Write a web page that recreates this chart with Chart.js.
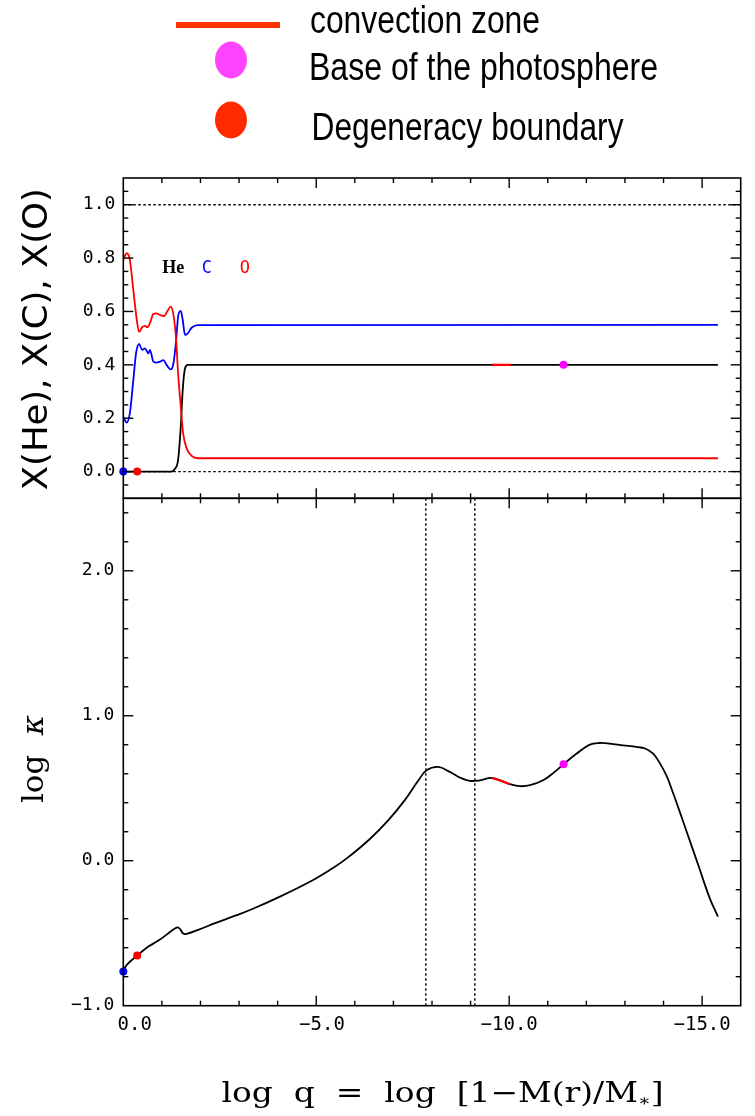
<!DOCTYPE html>
<html>
<head>
<meta charset="utf-8">
<script src="https://cdn.jsdelivr.net/npm/chart.js@4.4.1/dist/chart.umd.min.js"></script>
<style>
  html, body { margin: 0; padding: 0; background: #fff; }
  canvas { display: block; }
</style>
</head>
<body>
<canvas id="chart" width="755" height="1116"></canvas>
<script>
// --- abundances (top panel), x = log q
const qO = [0, -0.09, -0.17, -0.26, -0.35, -0.41, -0.49, -0.56, -0.62, -0.69, -0.78, -0.86, -0.95, -1.06, -1.15, -1.23, -1.30, -1.37, -1.42, -1.49, -1.55, -1.64, -1.77, -1.94, -15.41];
const xO = [0.793, 0.818, 0.793, 0.68, 0.568, 0.524, 0.541, 0.546, 0.541, 0.556, 0.591, 0.593, 0.587, 0.583, 0.603, 0.618, 0.587, 0.493, 0.368, 0.243, 0.144, 0.088, 0.059, 0.050, 0.050];

const qC = [0, -0.09, -0.17, -0.26, -0.33, -0.41, -0.49, -0.56, -0.65, -0.69, -0.78, -0.86, -0.95, -1.04, -1.12, -1.23, -1.30, -1.37, -1.42, -1.49, -1.54, -1.60, -1.67, -1.77, -1.94, -15.41];
const xC = [0.206, 0.184, 0.219, 0.343, 0.443, 0.478, 0.456, 0.462, 0.443, 0.456, 0.412, 0.408, 0.412, 0.418, 0.400, 0.383, 0.406, 0.493, 0.581, 0.602, 0.568, 0.512, 0.518, 0.539, 0.549, 0.550];

const qHe = [0, -1.24, -1.33, -1.42, -1.49, -1.54, -1.60, -1.67, -15.41];
const xHe = [0, 0, 0.009, 0.044, 0.169, 0.306, 0.387, 0.400, 0.400];

// --- opacity (bottom panel)
const qK = [0, -0.09, -0.36, -0.65, -0.91, -1.17, -1.38, -1.46, -1.55, -1.64, -1.94, -2.38, -2.88, -3.33, -4.06, -4.92, -5.40, -5.79, -6.39, -6.87, -7.30, -7.65, -7.86, -8.16, -8.46, -8.72, -8.98, -9.24, -9.54, -9.80, -10.02, -10.28, -10.54, -10.88, -11.18, -11.41, -11.75, -12.09, -12.35, -12.61, -12.95, -13.30, -13.52, -13.73, -13.90, -14.08, -14.25, -14.47, -14.60, -14.90, -15.20, -15.41];
const logK = [-0.764, -0.718, -0.654, -0.592, -0.551, -0.500, -0.461, -0.468, -0.502, -0.505, -0.477, -0.431, -0.381, -0.335, -0.248, -0.133, -0.056, 0.016, 0.150, 0.280, 0.420, 0.555, 0.624, 0.647, 0.613, 0.574, 0.551, 0.555, 0.571, 0.551, 0.528, 0.514, 0.521, 0.555, 0.613, 0.666, 0.739, 0.801, 0.812, 0.808, 0.796, 0.785, 0.774, 0.739, 0.675, 0.585, 0.465, 0.300, 0.200, -0.030, -0.260, -0.385];

// convection zone
const convQTop = [-9.54, -10.04];
const convXTop = [0.40, 0.40];
const convQ = [-9.54, -9.80, -10.02];
const convK = [0.571, 0.551, 0.528];

// markers: centre, degeneracy boundary, base of photosphere
const markQ = [0, -0.36, -11.41];
const markXTop = [0, 0, 0.40];
const markK = [-0.764, -0.654, 0.666];
const markColors = ['#0000ff', '#ff0000', '#ff00ff'];

// reference lines
const levelLines = [0, 1];
const boundaryQ = [-7.84, -9.11];

// tick labels
const xTicks = [0, -5, -10, -15];
const yTopTicks = [0, 0.2, 0.4, 0.6, 0.8, 1.0];
const yBotTicks = [-1, 0, 1, 2];

const pts = (xs, ys) => xs.map((q, i) => ({x: q, y: ys[i]}));
const setTicks = vals => s => { s.ticks = vals.map(v => ({value: v})); };

function line(ctx, x1, y1, x2, y2) {
  ctx.beginPath(); ctx.moveTo(x1, y1); ctx.lineTo(x2, y2); ctx.stroke();
}

// draw text runs stretched to a given width
function runsText(ctx, runs, x, y, width, center) {
  let total = 0;
  runs.forEach(r => { ctx.font = r.f; r.w = ctx.measureText(r.t).width; total += r.w; });
  const s = width ? width / total : 1;
  ctx.save();
  ctx.translate(x, y);
  ctx.scale(s, 1);
  let cx = center ? -total / 2 : 0;
  ctx.textAlign = 'left';
  ctx.textBaseline = 'alphabetic';
  runs.forEach(r => {
    ctx.font = r.f;
    ctx.fillStyle = r.c || '#000';
    ctx.fillText(r.t, cx, r.dy || 0);
    cx += r.w;
  });
  ctx.restore();
}

const framePlugin = {
  id: 'frame',
  beforeDatasetsDraw(chart) {
    const {ctx, scales: {x, yTop, yBot}} = chart;
    ctx.save();
    ctx.strokeStyle = '#000';
    ctx.lineWidth = 1.4;
    ctx.setLineDash([2.5, 2.5]);
    levelLines.forEach(v => {
      const py = yTop.getPixelForValue(v);
      line(ctx, x.left, py, x.right, py);
    });
    boundaryQ.forEach(v => {
      const px = x.getPixelForValue(v);
      line(ctx, px, yBot.top, px, yBot.bottom);
    });
    ctx.restore();
  },
  afterDatasetsDraw(chart) {
    const {ctx, scales: {x, yTop, yBot}} = chart;
    ctx.save();
    ctx.strokeStyle = '#000';
    ctx.lineWidth = 1.4;
    [yTop, yBot].forEach(s => {
      for (let v = -1; v >= -15; v--) {
        const len = v % 5 === 0 ? 10 : 5;
        const px = x.getPixelForValue(v);
        line(ctx, px, s.top, px, s.top + len);
        line(ctx, px, s.bottom, px, s.bottom - len);
      }
    });
    for (let k = -1; k <= 21; k++) {
      const len = k % 4 === 0 ? 10 : 5;
      const py = yTop.getPixelForValue(k * 0.05);
      line(ctx, x.left, py, x.left + len, py);
      line(ctx, x.right, py, x.right - len, py);
    }
    for (let k = -4; k <= 12; k++) {
      const len = k % 5 === 0 ? 10 : 5;
      const py = yBot.getPixelForValue(k * 0.2);
      line(ctx, x.left, py, x.left + len, py);
      line(ctx, x.right, py, x.right - len, py);
    }
    ctx.lineWidth = 1.6;
    ctx.strokeRect(x.left, yTop.top, x.right - x.left, yTop.bottom - yTop.top);
    ctx.strokeRect(x.left, yBot.top, x.right - x.left, yBot.bottom - yBot.top);
    ctx.restore();
  },
  afterDraw(chart) {
    const {ctx, scales: {x, yTop}} = chart;
    ctx.save();
    // legend
    ctx.fillStyle = '#ff3300';
    ctx.fillRect(176, 22, 104, 6);
    ctx.fillStyle = '#ff44ff';
    ctx.beginPath(); ctx.ellipse(231, 60, 16, 18.5, 0, 0, Math.PI * 2); ctx.fill();
    ctx.fillStyle = '#ff2a00';
    ctx.beginPath(); ctx.ellipse(231, 120, 16, 18.5, 0, 0, Math.PI * 2); ctx.fill();
    const lf = '38px "Liberation Sans", Arial, sans-serif';
    runsText(ctx, [{t: 'convection zone', f: lf}], 310, 33, 230);
    runsText(ctx, [{t: 'Base of the photosphere', f: lf}], 309, 80, 349);
    runsText(ctx, [{t: 'Degeneracy boundary', f: lf}], 311.5, 140, 312);

    // species labels
    ctx.textBaseline = 'alphabetic';
    ctx.textAlign = 'left';
    const ly = yTop.getPixelForValue(0.745);
    ctx.font = 'bold 18px "Liberation Serif", serif';
    ctx.fillStyle = '#000';
    ctx.fillText('He', x.getPixelForValue(-1.01), ly);
    ctx.font = '17px "DejaVu Sans Mono", monospace';
    ctx.fillStyle = '#0000ff';
    ctx.fillText('C', x.getPixelForValue(-2.03), ly);
    ctx.fillStyle = '#ff0000';
    ctx.fillText('O', x.getPixelForValue(-3.02), ly);

    // axis titles
    runsText(ctx, [{t: 'log  q  =  log  [1\u2212M(r)/M', f: '28px "DejaVu Serif", serif'},
                   {t: '\u2217', f: '16px "DejaVu Serif", serif', dy: 4},
                   {t: ']', f: '28px "DejaVu Serif", serif'}], 221.5, 1101.5, 442);
    ctx.save();
    ctx.translate(46.7, 339.2);
    ctx.rotate(-Math.PI / 2);
    runsText(ctx, [{t: 'X(He), X(C), X(O)', f: '34px "DejaVu Sans", sans-serif'}], 0, 0, 302, true);
    ctx.restore();
    ctx.save();
    ctx.translate(43.3, 759);
    ctx.rotate(-Math.PI / 2);
    runsText(ctx, [{t: 'log  ', f: '30px "DejaVu Serif", serif'},
                   {t: '\u03ba', f: 'italic 30px "DejaVu Serif", serif'}], 0, 0, 88, true);
    ctx.restore();
    ctx.restore();
  }
};

Chart.defaults.color = '#000';

const lineDs = (data, color, axis, tension) => ({
  data, yAxisID: axis, borderColor: color, borderWidth: 1.8,
  showLine: true, pointRadius: 0, order: 3,
  ...(tension ? {tension} : {cubicInterpolationMode: 'monotone'})
});

const minus = v => (v < 0 ? '\u2212' : '') + Math.abs(v).toFixed(1);

const chart = new Chart(document.getElementById('chart'), {
  type: 'scatter',
  data: {
    datasets: [
      lineDs(pts(qO, xO), '#ff0000', 'yTop'),
      lineDs(pts(qC, xC), '#0000ff', 'yTop'),
      lineDs(pts(qHe, xHe), '#000000', 'yTop'),
      lineDs(pts(qK, logK), '#000000', 'yBot', 0.4),
      {data: pts(convQTop, convXTop), yAxisID: 'yTop', borderColor: '#ff0000', borderWidth: 2.2,
       showLine: true, pointRadius: 0, order: 2},
      {data: pts(convQ, convK), yAxisID: 'yBot', borderColor: '#ff0000', borderWidth: 2.2,
       showLine: true, pointRadius: 0, tension: 0.4, order: 2},
      {data: pts(markQ, markXTop), yAxisID: 'yTop', pointRadius: 4, pointBorderWidth: 0,
       pointBackgroundColor: markColors, showLine: false, clip: false, order: 1},
      {data: pts(markQ, markK), yAxisID: 'yBot', pointRadius: 4, pointBorderWidth: 0,
       pointBackgroundColor: markColors, showLine: false, clip: false, order: 1}
    ]
  },
  options: {
    responsive: false,
    animation: false,
    events: [],
    layout: {padding: {left: 0, right: 14.3, top: 178, bottom: 0}},
    plugins: {legend: {display: false}, tooltip: {enabled: false}},
    scales: {
      x: {
        type: 'linear', position: 'bottom', min: -16, max: 0, reverse: true,
        grid: {display: false, drawTicks: false}, border: {display: false},
        afterFit: s => { s.height = 110.3; },
        afterBuildTicks: setTicks(xTicks),
        ticks: {
          padding: 8,
          font: {family: '"DejaVu Sans Mono", monospace', size: 19},
          callback: v => {
            const t = minus(v);
            if (v === 0) return '\u00a0\u00a0' + t;
            if (v === -5) return '\u00a0' + t;
            return t;
          }
        }
      },
      yTop: {
        type: 'linear', position: 'left', stack: 'panels', stackWeight: 320.3, weight: 2,
        min: -0.1, max: 1.1,
        grid: {display: false, drawTicks: false}, border: {display: false},
        afterFit: s => { s.width = 123.3; },
        afterBuildTicks: setTicks(yTopTicks),
        ticks: {
          padding: 8,
          font: {family: '"DejaVu Sans Mono", monospace', size: 18},
          callback: v => v.toFixed(1)
        }
      },
      yBot: {
        type: 'linear', position: 'left', stack: 'panels', stackWeight: 507.4, weight: 1,
        min: -1, max: 2.5,
        grid: {display: false, drawTicks: false}, border: {display: false},
        afterFit: s => { s.width = 123.3; },
        afterBuildTicks: setTicks(yBotTicks),
        ticks: {
          padding: 9,
          font: {family: '"DejaVu Sans Mono", monospace', size: 18},
          callback: minus
        }
      }
    }
  },
  plugins: [framePlugin]
});
</script>
</body>
</html>
